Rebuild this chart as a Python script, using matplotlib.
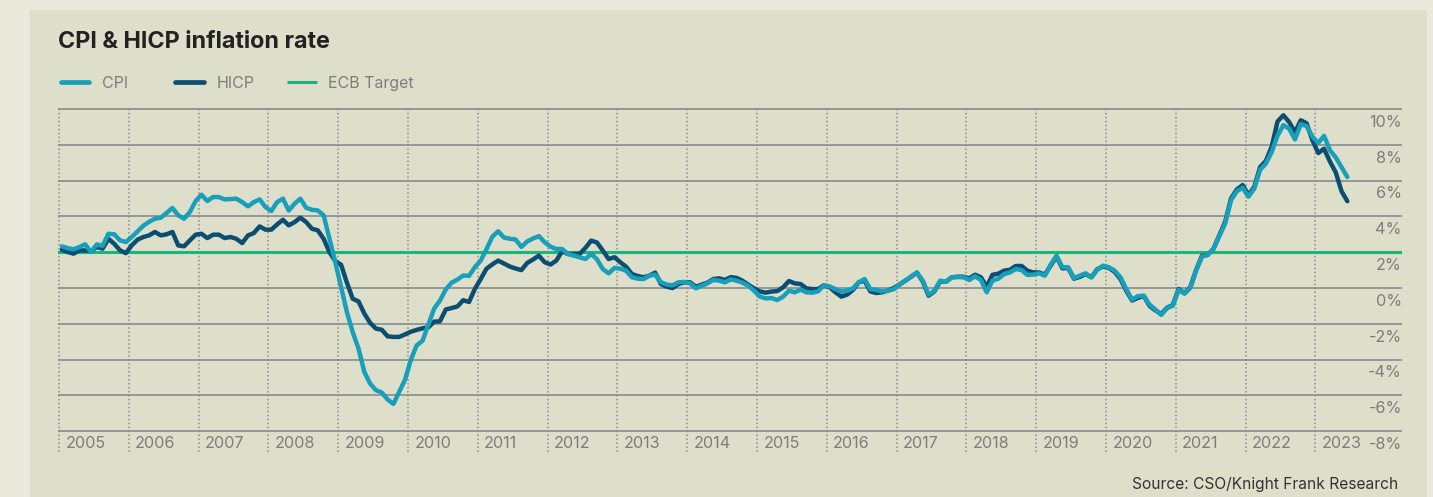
import numpy as np
import matplotlib
matplotlib.use("Agg")
import matplotlib.pyplot as plt
from matplotlib.patches import Rectangle
from matplotlib.lines import Line2D

plt.rcParams['font.family'] = ['Inter', 'DejaVu Sans']

# ---------------- data (monthly, Jan 2005 - Jun 2023) ----------------
years = list(range(2005, 2024))

cpi_2005 = [2.33, 2.23, 2.16, 2.29, 2.44, 2.01, 2.44, 2.36, 3.03, 3.0, 2.66, 2.57]
cpi_2006 = [2.85, 3.16, 3.48, 3.7, 3.87, 3.93, 4.19, 4.47, 4.06, 3.87, 4.24, 4.86]
cpi_2007 = [5.21, 4.86, 5.08, 5.08, 4.95, 4.97, 4.99, 4.8, 4.56, 4.8, 4.95, 4.52]
cpi_2008 = [4.3, 4.8, 4.99, 4.33, 4.71, 4.99, 4.48, 4.37, 4.33, 4.06, 2.75, 1.45]
cpi_2009 = [0.06, -1.34, -2.46, -3.39, -4.69, -5.34, -5.71, -5.84, -6.23, -6.47, -5.8, -5.12]
cpi_2010 = [-4.0, -3.2, -2.95, -2.05, -1.15, -0.7, -0.08, 0.3, 0.47, 0.7, 0.68, 1.16]
cpi_2011 = [1.53, 2.17, 2.86, 3.17, 2.82, 2.75, 2.71, 2.3, 2.6, 2.77, 2.9, 2.56]
cpi_2012 = [2.31, 2.18, 2.18, 1.9, 1.81, 1.72, 1.62, 1.9, 1.6, 1.06, 0.82, 1.12]
cpi_2013 = [1.08, 0.97, 0.6, 0.52, 0.5, 0.69, 0.75, 0.32, 0.19, 0.15, 0.32, 0.34]
cpi_2014 = [0.26, -0.02, 0.13, 0.26, 0.45, 0.41, 0.32, 0.48, 0.41, 0.3, 0.13, -0.15]
cpi_2015 = [-0.48, -0.58, -0.56, -0.67, -0.48, -0.15, -0.24, -0.09, -0.24, -0.26, -0.19, 0.15]
cpi_2016 = [0.09, -0.06, -0.2, -0.15, -0.02, 0.32, 0.5, -0.06, -0.11, -0.19, -0.15, -0.07]
cpi_2017 = [0.19, 0.41, 0.63, 0.86, 0.41, -0.37, -0.15, 0.41, 0.35, 0.6, 0.61, 0.6]
cpi_2018 = [0.45, 0.65, 0.45, -0.24, 0.41, 0.52, 0.78, 0.87, 1.06, 1.0, 0.73, 0.75]
cpi_2019 = [0.82, 0.69, 1.31, 1.81, 1.16, 1.16, 0.56, 0.69, 0.82, 0.6, 1.01, 1.25]
cpi_2020 = [1.16, 0.97, 0.6, -0.06, -0.65, -0.45, -0.43, -0.93, -1.2, -1.5, -1.12, -0.99]
cpi_2021 = [-0.1, -0.3, 0.0, 0.97, 1.75, 1.85, 2.2, 2.9, 3.6, 4.9, 5.4, 5.6]
cpi_2022 = [5.1, 5.55, 6.6, 6.95, 7.6, 8.5, 9.1, 8.9, 8.3, 9.15, 9.05, 8.45]
cpi_2023 = [8.1, 8.5, 7.7, 7.3, 6.75, 6.2]

hicp_2005 = [2.14, 2.01, 1.92, 2.1, 2.1, 2.06, 2.29, 2.2, 2.75, 2.47, 2.1, 1.95]
hicp_2006 = [2.38, 2.7, 2.85, 2.94, 3.13, 2.94, 3.0, 3.13, 2.38, 2.33, 2.66, 2.98]
hicp_2007 = [3.03, 2.79, 2.98, 2.98, 2.79, 2.85, 2.75, 2.51, 2.94, 3.07, 3.44, 3.26]
hicp_2008 = [3.26, 3.55, 3.81, 3.5, 3.68, 3.93, 3.68, 3.31, 3.22, 2.75, 2.0, 1.5]
hicp_2009 = [1.3, 0.3, -0.6, -0.75, -1.43, -1.95, -2.27, -2.33, -2.7, -2.73, -2.73, -2.59]
hicp_2010 = [-2.44, -2.34, -2.25, -2.2, -1.88, -1.86, -1.2, -1.12, -1.03, -0.68, -0.78, -0.05]
hicp_2011 = [0.5, 1.08, 1.32, 1.53, 1.37, 1.2, 1.09, 1.0, 1.4, 1.59, 1.81, 1.44]
hicp_2012 = [1.31, 1.53, 2.05, 1.9, 1.9, 1.9, 2.24, 2.65, 2.54, 2.09, 1.62, 1.72]
hicp_2013 = [1.44, 1.19, 0.78, 0.67, 0.6, 0.69, 0.86, 0.22, 0.07, 0.0, 0.22, 0.32]
hicp_2014 = [0.32, 0.07, 0.19, 0.3, 0.5, 0.54, 0.45, 0.61, 0.56, 0.41, 0.19, -0.02]
hicp_2015 = [-0.19, -0.26, -0.2, -0.17, 0.04, 0.39, 0.26, 0.22, -0.02, -0.06, -0.06, 0.15]
hicp_2016 = [0.04, -0.24, -0.48, -0.37, -0.11, 0.32, 0.41, -0.19, -0.28, -0.24, -0.15, 0.0]
hicp_2017 = [0.19, 0.41, 0.63, 0.86, 0.37, -0.43, -0.19, 0.37, 0.35, 0.6, 0.63, 0.63]
hicp_2018 = [0.54, 0.74, 0.6, 0.07, 0.74, 0.8, 0.97, 1.02, 1.23, 1.23, 0.97, 0.87]
hicp_2019 = [0.87, 0.75, 1.25, 1.75, 1.1, 1.12, 0.52, 0.62, 0.78, 0.6, 1.05, 1.2]
hicp_2020 = [1.12, 0.9, 0.5, -0.15, -0.7, -0.55, -0.45, -1.0, -1.25, -1.45, -1.1, -0.95]
hicp_2021 = [-0.05, -0.3, 0.05, 1.0, 1.8, 1.85, 2.2, 2.95, 3.7, 5.0, 5.5, 5.75]
hicp_2022 = [5.2, 5.65, 6.75, 7.1, 7.9, 9.3, 9.65, 9.27, 8.7, 9.37, 9.2, 8.25]
hicp_2023 = [7.54, 7.78, 7.07, 6.47, 5.41, 4.85]

ecb_target = 2.0
y_ticks = [10, 8, 6, 4, 2, 0, -2, -4, -6, -8]
y_tick_labels = ["10%", "8%", "6%", "4%", "2%", "0%", "-2%", "-4%", "-6%", "-8%"]

cpi = (cpi_2005 + cpi_2006 + cpi_2007 + cpi_2008 + cpi_2009 + cpi_2010 + cpi_2011
       + cpi_2012 + cpi_2013 + cpi_2014 + cpi_2015 + cpi_2016 + cpi_2017 + cpi_2018
       + cpi_2019 + cpi_2020 + cpi_2021 + cpi_2022 + cpi_2023)
hicp = (hicp_2005 + hicp_2006 + hicp_2007 + hicp_2008 + hicp_2009 + hicp_2010 + hicp_2011
        + hicp_2012 + hicp_2013 + hicp_2014 + hicp_2015 + hicp_2016 + hicp_2017 + hicp_2018
        + hicp_2019 + hicp_2020 + hicp_2021 + hicp_2022 + hicp_2023)

# ---------------- styling ----------------
W, H = 1433, 497
C_CPI = '#189fba'
C_HICP = '#0c4e72'
C_ECB = '#1fb47b'
C_GRID = '#8f9294'
C_TXT = '#7c7d7e'

fig = plt.figure(figsize=(W / 100, H / 100), dpi=100)
fig.patch.set_facecolor('#e9eadc')
fig.add_artist(Rectangle((30 / W, 0), (1427 - 30) / W, (H - 10) / H,
                         transform=fig.transFigure, facecolor='#dedfca',
                         edgecolor='none', zorder=-10))

ax = fig.add_axes([58 / W, 1 - 452 / H, (1402 - 58) / W, (452 - 107.2) / H])
ax.set_zorder(1)
ax.set_facecolor('none')
ax.set_xlim(-0.17, 230.9)
ax.set_ylim(-9.16, 10.1)
ax.axis('off')

# horizontal grid
for v in y_ticks:
    if v == ecb_target:
        continue
    ax.axhline(v, color=C_GRID, lw=1.3, zorder=1)

# vertical dotted year lines
for i in range(len(years)):
    ax.plot([12 * i, 12 * i], [-9.16, 10.0], color='#8a8c8c', lw=1.1,
            linestyle=(0, (1, 1.6)), zorder=1)
    ax.text(12 * i + 1.1, -8.68, str(years[i]), ha='left', va='center',
            fontsize=11.7, color=C_TXT)

# y labels
for v, lab in zip(y_ticks, y_tick_labels):
    ax.text(1.0, v - 0.74, lab, transform=ax.get_yaxis_transform(),
            ha='right', va='center', fontsize=11.7, color=C_TXT)

# ECB target
ax.axhline(ecb_target, color=C_ECB, lw=2.2, zorder=2)

x = np.arange(len(cpi)) + 0.5
ax.plot(x, hicp, color=C_HICP, lw=3.2, solid_joinstyle='round',
        solid_capstyle='round', zorder=3)
ax.plot(x, cpi, color=C_CPI, lw=3.2, solid_joinstyle='round',
        solid_capstyle='round', zorder=4)

# title
fig.text(58 / W, 1 - 42 / H, "CPI & HICP inflation rate", ha='left', va='center',
         fontsize=16.8, fontweight='bold', color='#222222')

# legend
ly = 1 - 82 / H
for (x0, x1, col, lw, cap, label, tx) in [
        (60.5, 88.5, C_CPI, 3.4, 'round', 'CPI', 102),
        (175, 203.5, C_HICP, 3.4, 'round', 'HICP', 216.5),
        (287, 316.5, C_ECB, 2.2, 'butt', 'ECB Target', 328.5)]:
    fig.add_artist(Line2D([x0 / W, x1 / W], [ly, ly], color=col, lw=lw,
                          solid_capstyle=cap, transform=fig.transFigure))
    fig.text(tx / W, 1 - 83.5 / H, label, ha='left', va='center',
             fontsize=11.5, color=C_TXT)

# source
fig.text(1398 / W, 1 - 485 / H, "Source: CSO/Knight Frank Research", ha='right',
         va='center', fontsize=11.2, color='#333333')

fig.savefig('out.png', dpi=100, facecolor=fig.get_facecolor())
